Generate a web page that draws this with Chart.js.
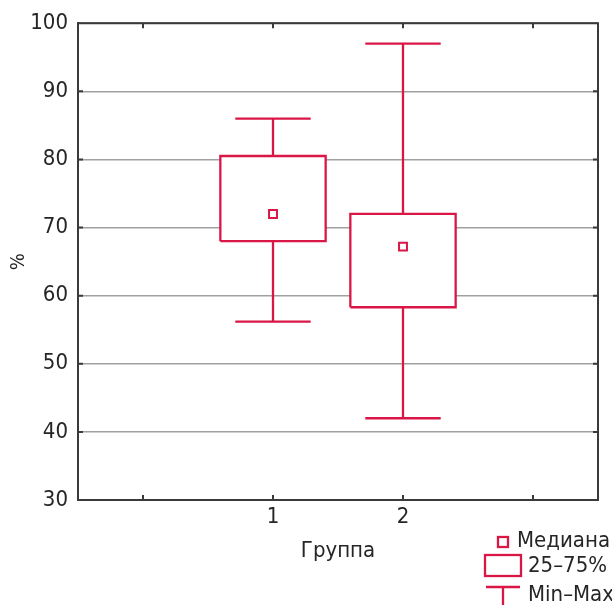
<!DOCTYPE html>
<html>
<head>
<meta charset="utf-8">
<script src="https://cdn.jsdelivr.net/npm/chart.js@4"></script>
<style>
  html, body { margin: 0; padding: 0; background: #fff; }
  canvas { display: block; }
</style>
</head>
<body>
<canvas id="chart" width="612" height="605"></canvas>
<script>
// Box-plot data per group
const groupLabels = ['1', '2'];
const groupPositions = [1, 2];
const minValues = [56.2, 42];
const q1Values = [68, 58.3];
const medianValues = [72, 67.2];
const q3Values = [80.5, 72];
const maxValues = [86, 97];

// Axis ticks
const yTickValues = [30, 40, 50, 60, 70, 80, 90, 100];
const xTickValues = [0, 1, 2, 3];

// Legend entries
const legendLabels = ['Медиана', '25–75%', 'Min–Max'];
const xTitle = 'Группа';
const yTitle = '%';

const RED = 'rgb(218, 22, 70)';
const AXIS = '#3a3a3a';
const TEXT = '#262626';
const FONT = '"Liberation Sans Narrow", "DejaVu Sans Condensed", "Arial Narrow", sans-serif';
const LINE_W = 2.3;
const BOX_HALF = 0.405;
const CAP_HALF = 0.29;

const datasets = [];
groupPositions.forEach((x, i) => {
  const lineStyle = { type: 'line', borderColor: RED, borderWidth: LINE_W, pointRadius: 0, tension: 0, fill: false, order: 2 };
  // interquartile box
  datasets.push(Object.assign({}, lineStyle, {
    data: [
      { x: x - BOX_HALF, y: q1Values[i] },
      { x: x - BOX_HALF, y: q3Values[i] },
      { x: x + BOX_HALF, y: q3Values[i] },
      { x: x + BOX_HALF, y: q1Values[i] },
      { x: x - BOX_HALF, y: q1Values[i] }
    ],
    backgroundColor: '#ffffff',
    fill: 'shape',
    order: 1
  }));
  // upper whisker and cap
  datasets.push(Object.assign({}, lineStyle, {
    data: [{ x: x, y: q3Values[i] }, { x: x, y: maxValues[i] }]
  }));
  datasets.push(Object.assign({}, lineStyle, {
    data: [{ x: x - CAP_HALF, y: maxValues[i] }, { x: x + CAP_HALF, y: maxValues[i] }]
  }));
  // lower whisker and cap
  datasets.push(Object.assign({}, lineStyle, {
    data: [{ x: x, y: q1Values[i] }, { x: x, y: minValues[i] }]
  }));
  datasets.push(Object.assign({}, lineStyle, {
    data: [{ x: x - CAP_HALF, y: minValues[i] }, { x: x + CAP_HALF, y: minValues[i] }]
  }));
});
// medians
datasets.push({
  type: 'scatter',
  data: groupPositions.map((x, i) => ({ x: x, y: medianValues[i] })),
  pointStyle: 'rect',
  pointRadius: 5.6,
  borderColor: RED,
  backgroundColor: '#ffffff',
  borderWidth: 2,
  order: 0
});

// frame, inner tick marks and legend
const framePlugin = {
  id: 'frame',
  afterDraw(chart) {
    const ctx = chart.ctx;
    const a = chart.chartArea;
    const xs = chart.scales.x, ys = chart.scales.y;
    ctx.save();
    ctx.strokeStyle = AXIS;
    ctx.lineWidth = 2;
    ctx.beginPath();
    ctx.moveTo(a.left - 1, a.top);
    ctx.lineTo(a.right, a.top);
    ctx.lineTo(a.right, a.bottom + 1);
    ctx.stroke();

    const tl = 5;
    ctx.beginPath();
    yTickValues.forEach(v => {
      if (v === ys.min || v === ys.max) return;
      const py = ys.getPixelForValue(v);
      ctx.moveTo(a.left, py); ctx.lineTo(a.left + tl, py);
      ctx.moveTo(a.right - tl, py); ctx.lineTo(a.right, py);
    });
    xTickValues.forEach(v => {
      const px = xs.getPixelForValue(v);
      ctx.moveTo(px, a.top); ctx.lineTo(px, a.top + tl);
      ctx.moveTo(px, a.bottom); ctx.lineTo(px, a.bottom - tl);
    });
    ctx.stroke();

    // legend
    ctx.strokeStyle = RED;
    ctx.fillStyle = '#fff';
    ctx.lineWidth = LINE_W;
    ctx.fillRect(498, 537, 10, 10);
    ctx.strokeRect(498, 537, 10, 10);
    ctx.strokeRect(485, 555, 36, 21);
    ctx.beginPath();
    ctx.moveTo(486, 587); ctx.lineTo(520, 587);
    ctx.moveTo(503, 587); ctx.lineTo(503, 605);
    ctx.stroke();

    ctx.fillStyle = TEXT;
    ctx.font = '22px ' + FONT;
    ctx.textBaseline = 'middle';
    ctx.textAlign = 'left';
    ctx.fillText(legendLabels[0], 517, 541);
    ctx.fillText(legendLabels[1], 528, 566);
    ctx.fillText(legendLabels[2], 528, 595);
    ctx.restore();
  }
};

new Chart(document.getElementById('chart'), {
  type: 'scatter',
  data: { datasets: datasets },
  options: {
    responsive: false,
    animation: false,
    layout: { padding: { top: 23, right: 14, left: 0, bottom: 0 } },
    plugins: { legend: { display: false }, tooltip: { enabled: false } },
    scales: {
      x: {
        type: 'linear',
        min: -0.5,
        max: 3.5,
        afterBuildTicks: s => { s.ticks = xTickValues.map(v => ({ value: v })); },
        afterFit: s => { s.height = 105; },
        ticks: {
          autoSkip: false,
          maxRotation: 0,
          padding: 4,
          color: TEXT,
          font: { family: FONT, size: 22 },
          callback: v => { const k = groupPositions.indexOf(v); return k >= 0 ? groupLabels[k] : ''; }
        },
        grid: { display: false, drawTicks: false },
        border: { display: true, color: AXIS, width: 2 },
        title: {
          display: true,
          text: xTitle,
          color: TEXT,
          font: { family: FONT, size: 22 },
          padding: { top: 0, bottom: 41 }
        }
      },
      y: {
        type: 'linear',
        min: 30,
        max: 100,
        afterBuildTicks: s => { s.ticks = yTickValues.map(v => ({ value: v })); },
        afterFit: s => { s.width = 78; },
        ticks: {
          padding: 10,
          color: TEXT,
          font: { family: FONT, size: 22 }
        },
        grid: { color: '#a0a0a0', lineWidth: 1.5, drawTicks: false },
        border: { display: true, color: AXIS, width: 2 },
        title: {
          display: true,
          text: yTitle,
          color: TEXT,
          font: { family: FONT, size: 20 },
          padding: { top: 7, bottom: 7 }
        }
      }
    }
  },
  plugins: [framePlugin]
});
</script>
</body>
</html>
